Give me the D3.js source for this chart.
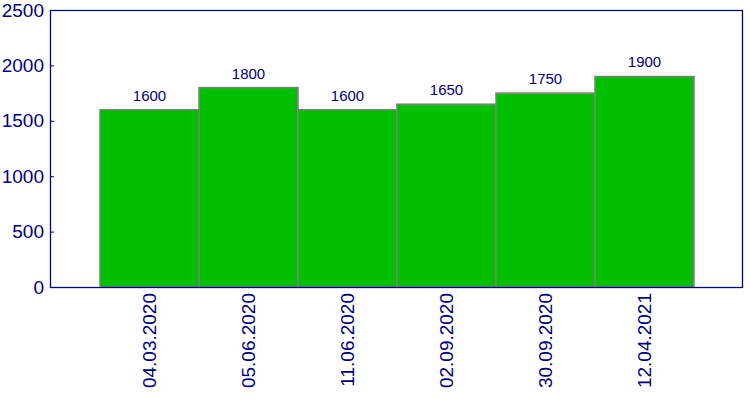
<!DOCTYPE html>
<html><head><meta charset="utf-8">
<script src="https://cdn.jsdelivr.net/npm/d3@7"></script>
<style>body{margin:0;background:#fff}svg{display:block}text{font-family:"Liberation Sans",Arial,sans-serif}</style>
</head><body><div id="c"></div>
<script>
const categories = ["04.03.2020","05.06.2020","11.06.2020","02.09.2020","30.09.2020","12.04.2021"];
const values = [1600,1800,1600,1650,1750,1900];
const yTicks = [0,500,1000,1500,2000,2500];

const W=750,H=400, L=50, T=10, R=743, B=287;
const navy="#000080";
const svg=d3.select("#c").append("svg").attr("width",W).attr("height",H);
const x=d3.scaleBand().domain(categories).range([100,694]).padding(0);
const y=d3.scaleLinear().domain([0,2500]).range([B,T]);

svg.append("g").selectAll("rect").data(values).join("rect")
  .attr("x",(d,i)=>x(categories[i])).attr("width",x.bandwidth())
  .attr("y",d=>y(d)).attr("height",d=>B-y(d))
  .attr("fill","#00bf00").attr("stroke","#808080").attr("stroke-width",1.5);

svg.append("g").selectAll("text").data(values).join("text")
  .attr("x",(d,i)=>x(categories[i])+x.bandwidth()/2).attr("y",d=>y(d)-9)
  .attr("text-anchor","middle").attr("font-size",15).attr("fill",navy).text(d=>d);

svg.append("rect").attr("x",L+0.5).attr("y",T+0.5).attr("width",R-L-1).attr("height",B-T)
  .attr("fill","none").attr("stroke",navy).attr("stroke-width",1.3);

const ya=svg.append("g").attr("transform",`translate(${L},0)`)
  .call(d3.axisRight(y).tickValues(yTicks).tickSize(4).tickFormat(d=>d));
ya.select(".domain").remove();
ya.selectAll("line").attr("stroke",navy);
ya.selectAll("text").attr("x",-6).attr("text-anchor","end").attr("font-size",19).attr("fill",navy).attr("font-family","Liberation Sans, Arial, sans-serif");

const xa=svg.append("g").attr("transform",`translate(0,${B})`)
  .call(d3.axisBottom(x).tickSize(0));
xa.select(".domain").remove();
xa.selectAll("text").attr("transform","rotate(-90)").attr("x",-6).attr("y",0).attr("dy","0.35em")
  .attr("text-anchor","end").attr("font-size",19).attr("fill",navy).attr("font-family","Liberation Sans, Arial, sans-serif");
</script></body></html>
